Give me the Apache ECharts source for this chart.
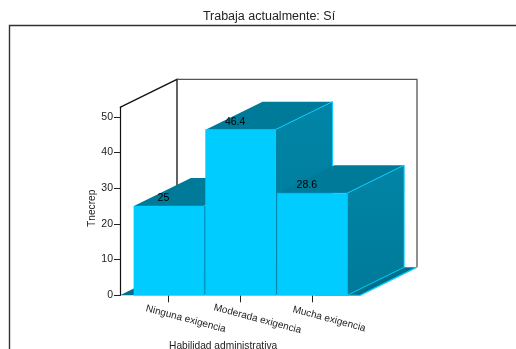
<!DOCTYPE html>
<html><head><meta charset="utf-8">
<style>html,body{margin:0;padding:0;background:#fff}#c{width:516px;height:349px}</style>
<script src="https://cdn.jsdelivr.net/npm/echarts@6/dist/echarts.min.js"></script>
</head><body><div id="c"></div>
<script>
const categories = ['Ninguna exigencia', 'Moderada exigencia', 'Mucha exigencia'];
const values = [25, 46.4, 28.6];
const yTicks = [0, 10, 20, 30, 40, 50];
const wallTop = 52.66;
const titleText = 'Trabaja actualmente: Sí';
const xName = 'Habilidad administrativa';
const yName = 'Tnecrep';

const DX = 57, DY = -28, FONT = '"Liberation Sans", Arial, sans-serif';
const chart = echarts.init(document.getElementById('c'), null, {renderer: 'canvas'});

function wallItem(params, api) {
  const band = api.size([1, 0])[0];
  const b = api.coord([0, 0]), t = api.coord([0, wallTop]);
  const l = b[0] - band / 2 - 12.6, r = l + 240, y0 = b[1], y1 = t[1];
  const line = (pts, c) => ({type: 'polyline', shape: {points: pts}, style: {fill: null, stroke: c, lineWidth: 1.3}});
  return {type: 'group', children: [
    {type: 'polygon', shape: {points: [[l, y0], [l + DX, y0 + DY], [r + DX, y0 + DY], [r, y0]]}, style: {fill: '#006F8C', stroke: null}},
    line([[r - 45, y0], [r, y0], [r + DX - 0.5, y0 + DY]], '#00CCFF'),
    line([[l, y1], [l + DX, y1 + DY], [l + DX, y0 + DY]], '#111'),
    line([[l + DX, y1 + DY], [r + DX, y1 + DY], [r + DX, y0 + DY]], '#555')
  ]};
}

function barItem(params, api) {
  const band = api.size([1, 0])[0];
  const c = api.coord([api.value(0), api.value(1)]), b = api.coord([api.value(0), 0]);
  const w = band * 0.975, l = c[0] - w / 2 + 0.4, r = l + w, t = c[1], y0 = b[1];
  return {type: 'group', children: [
    {type: 'polygon', shape: {points: [[l, t], [l + DX, t + DY], [r + DX, t + DY], [r, t]]}, style: {fill: '#007A99', stroke: null}},
    {type: 'polygon', shape: {points: [[r, t], [r + DX, t + DY], [r + DX, y0 + DY], [r, y0]]},
      style: {fill: new echarts.graphic.LinearGradient(0, 0, 0, 1, [{offset: 0, color: '#0085A6'}, {offset: 1, color: '#007A99'}]), stroke: '#00CCFF', lineWidth: 1}},
    {type: 'rect', shape: {x: l, y: t, width: w, height: y0 - t}, style: {fill: '#00CCFF', stroke: '#00CCFF', lineWidth: 0.5}},
    {type: 'text', x: c[0] - 5, y: t - 8, style: {text: String(api.value(1)), fill: '#000', font: '10.5px ' + FONT, align: 'center', verticalAlign: 'middle'}}
  ]};
}

chart.setOption({
  backgroundColor: '#fff',
  animation: false,
  title: {text: titleText, left: 264, top: 5, textAlign: 'center',
    textStyle: {fontFamily: FONT, fontSize: 12.5, fontWeight: 'normal', color: '#222'}},
  grid: {left: 132.6, width: 215, top: 107.3, height: 188, outerBoundsMode: 'none'},
  graphic: [{type: 'polyline', silent: true, z: -1, shape: {points: [[9.5, 349], [9.5, 25.5], [516, 25.5]]},
    style: {fill: null, stroke: '#333', lineWidth: 1.4}}],
  xAxis: {type: 'category', data: categories, boundaryGap: true,
    name: xName, nameLocation: 'middle', nameGap: 45,
    nameTextStyle: {fontFamily: FONT, fontSize: 10.2, color: '#222', padding: [0, 34, 0, 0]},
    axisLine: {show: false},
    axisTick: {show: true, alignWithLabel: true, length: 7, lineStyle: {color: '#222'}},
    axisLabel: {interval: 0, rotate: -15, hideOverlap: false, align: 'center', verticalAlign: 'middle', margin: 19,
      padding: [0, 0, 0, 36], fontFamily: FONT, fontSize: 10, color: '#222'}},
  yAxis: {type: 'value', min: 0, max: wallTop, offset: 12.6,
    name: yName, nameLocation: 'middle', nameGap: 20,
    nameTextStyle: {fontFamily: FONT, fontSize: 10.2, color: '#222', padding: [0, 14, 0, 0]},
    splitLine: {show: false},
    axisLine: {show: true, lineStyle: {color: '#111', width: 1.2}},
    axisTick: {show: true, length: 6, lineStyle: {color: '#222'}, customValues: yTicks},
    axisLabel: {margin: 7, fontFamily: FONT, fontSize: 10.5, color: '#222', customValues: yTicks}},
  series: [
    {type: 'custom', renderItem: wallItem, data: [[0, wallTop]], clip: false, silent: true, z: 1},
    {type: 'custom', renderItem: barItem, data: values.map((v, i) => [i, v]), clip: false, z: 2}
  ]
});
</script></body></html>
